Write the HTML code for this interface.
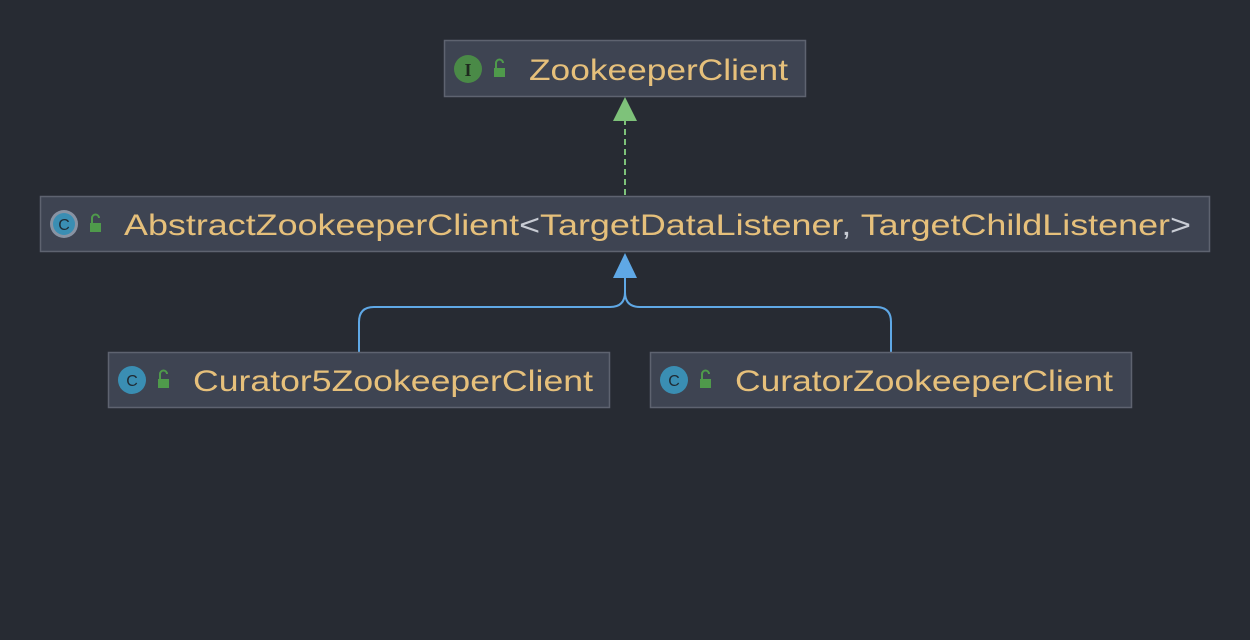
<!DOCTYPE html>
<html><head><meta charset="utf-8"><style>
html,body{margin:0;padding:0;background:#272b33;}
</style></head><body>
<svg width="1250" height="640" viewBox="0 0 1250 640" xmlns="http://www.w3.org/2000/svg" style="display:block">
<rect width="1250" height="640" fill="#272b33"/>
<line x1="625" y1="195" x2="625" y2="120" stroke="#7ec27a" stroke-width="2" stroke-dasharray="6,4"/>
<polygon points="625,97 613,121 637,121" fill="#7ec27a"/>
<path d="M359,352 V322 Q359,307 374,307 H610 Q625,307 625,292 V276 M891,352 V322 Q891,307 876,307 H640 Q625,307 625,292" fill="none" stroke="#5fa8e6" stroke-width="2"/>
<polygon points="625,253 613,278 637,278" fill="#5fa8e6"/>
<g stroke="#5e6370" stroke-width="1.5" fill="#3e4452">
<rect x="444.5" y="40.5" width="361" height="56"/>
<rect x="40.5" y="196.5" width="1169" height="55"/>
<rect x="108.5" y="352.5" width="501" height="55"/>
<rect x="650.5" y="352.5" width="481" height="55"/>
</g>
<circle cx="468" cy="69" r="14" fill="#4a8a47"/>
<text x="468" y="76" font-family="Liberation Serif,serif" font-size="18" fill="#1e2a1e" text-anchor="middle" font-weight="bold">I</text>
<circle cx="64" cy="224" r="14" fill="#8893a3"/>
<circle cx="64" cy="224" r="11" fill="#3a8eb3"/>
<text x="64" y="230" font-family="Liberation Sans,sans-serif" font-size="16" fill="#1f2a33" text-anchor="middle">C</text>
<circle cx="132" cy="380" r="14" fill="#3a8eb3"/>
<text x="132" y="386" font-family="Liberation Sans,sans-serif" font-size="16" fill="#1f2a33" text-anchor="middle">C</text>
<circle cx="674" cy="380" r="14" fill="#3a8eb3"/>
<text x="674" y="386" font-family="Liberation Sans,sans-serif" font-size="16" fill="#1f2a33" text-anchor="middle">C</text>
<g fill="#4f9a4b" stroke="#4f9a4b">
<rect x="494" y="68" width="11" height="9" stroke="none"/><path d="M496,68 V63 a3.5,3.5 0 0 1 7,0" fill="none" stroke-width="2"/>
<rect x="90" y="223" width="11" height="9" stroke="none"/><path d="M92,223 V218 a3.5,3.5 0 0 1 7,0" fill="none" stroke-width="2"/>
<rect x="158" y="379" width="11" height="9" stroke="none"/><path d="M160,379 V374 a3.5,3.5 0 0 1 7,0" fill="none" stroke-width="2"/>
<rect x="700" y="379" width="11" height="9" stroke="none"/><path d="M702,379 V374 a3.5,3.5 0 0 1 7,0" fill="none" stroke-width="2"/>
</g>
<g font-family="Liberation Sans,sans-serif" font-size="30" fill="#e6c07b">
<text x="529" y="80" textLength="259" lengthAdjust="spacingAndGlyphs">ZookeeperClient</text>
<text x="124" y="235" textLength="1067" lengthAdjust="spacingAndGlyphs"><tspan>AbstractZookeeperClient</tspan><tspan fill="#c8ccd4">&lt;</tspan><tspan>TargetDataListener</tspan><tspan fill="#c8ccd4">, </tspan><tspan>TargetChildListener</tspan><tspan fill="#c8ccd4">&gt;</tspan></text>
<text x="193" y="391" textLength="400" lengthAdjust="spacingAndGlyphs">Curator5ZookeeperClient</text>
<text x="735" y="391" textLength="378" lengthAdjust="spacingAndGlyphs">CuratorZookeeperClient</text>
</g>
</svg>
</body></html>
